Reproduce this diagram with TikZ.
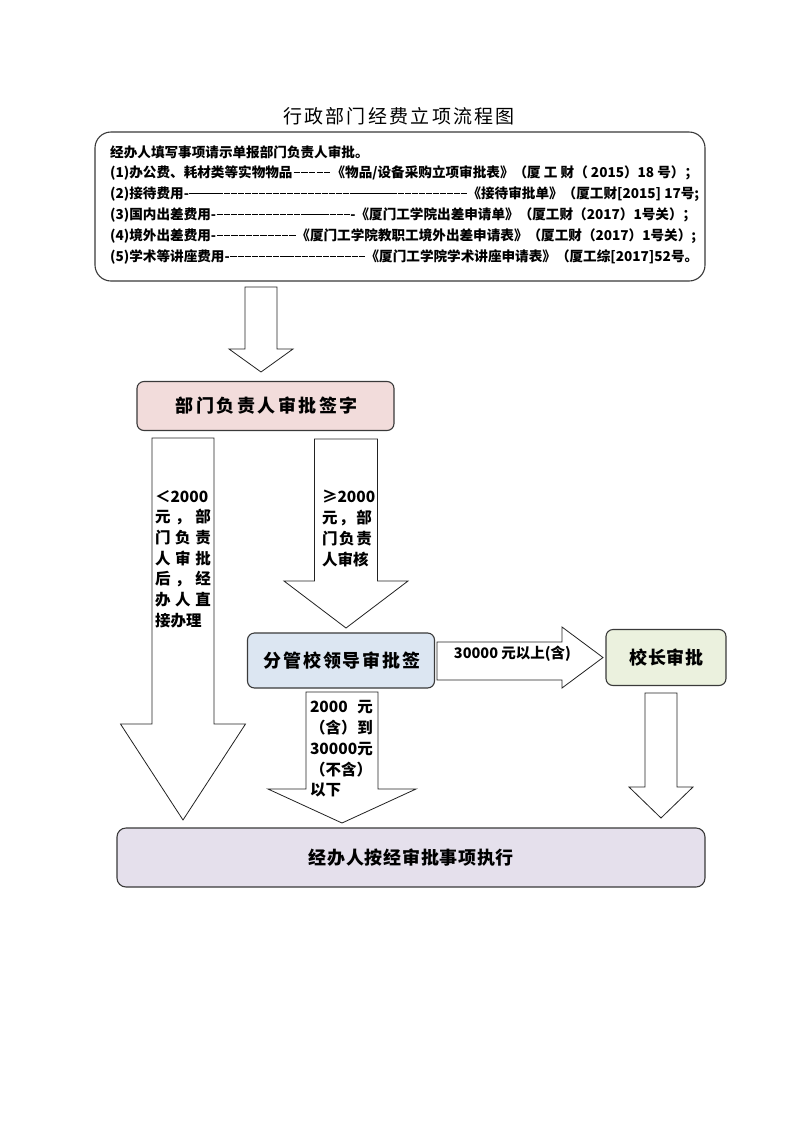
\documentclass[tikz,border=0pt]{standalone}
\usepackage{fontspec}
\setmainfont{Noto Sans CJK SC}
\definecolor{boxline}{HTML}{3A3A3A}
\definecolor{arrline}{HTML}{222222}
\definecolor{pinkc}{HTML}{F2DCDB}
\definecolor{bluec}{HTML}{DCE6F2}
\definecolor{greenc}{HTML}{EBF1DE}
\definecolor{lavc}{HTML}{E5E0EC}
\newcommand\dnarrow[6]{% cx, ytop, shaft half width, yhead, head half width, ytip
  \draw[arr] ({#1-#3},#2) -- ({#1+#3},#2) -- ({#1+#3},#4) -- ({#1+#5},#4) -- (#1,#6)
    -- ({#1-#5},#4) -- ({#1-#3},#4) -- cycle;}
\newcommand\jline[2]{\hbox to #1{#2}}
\newcommand\dashfill{\xleaders\hbox{\kern0.3pt\rule[4.6pt]{6.2pt}{0.8pt}\kern0.3pt}\hfill}
\begin{document}
\begin{tikzpicture}[x=1pt,y=-1pt,
  box/.style={draw=boxline,line width=1.1pt,rounded corners=7pt,inner sep=0pt},
  arr/.style={draw=arrline,line width=0.8pt,fill=white,line join=miter},
  infoline/.style={anchor=west,inner sep=0pt,font=\bfseries\fontsize{13.6}{16}\selectfont},
  arrtext/.style={inner sep=0pt,align=left,font=\bfseries\fontsize{15.5}{20.7}\selectfont}]
\useasboundingbox (0,0) rectangle (793,1122);
\fill[white] (0,0) rectangle (793,1122);

% title
\node[inner sep=0pt,font=\fontsize{19}{22}\selectfont\addfontfeature{LetterSpace=12}] (title) at (399,116) {行政部门经费立项流程图};

% top information box
\node[box,rounded corners=16pt,fill=white,minimum width=610pt,minimum height=149pt] (info) at (400,206.5) {};
\node[infoline] (l1) at (110,152) {经办人填写事项请示单报部门负责人审批。};
\node[infoline] (l2) at (110,173) {\jline{588pt}{(1)办公费、耗材类等实物物品\dashfill《物品/设备采购立项审批表》（厦 工 财（ 2015）18 号）；}};
\node[infoline] (l3) at (110,194) {\jline{589pt}{(2)接待费用-\dashfill《接待审批单》（厦工财[2015] 17号;}};
\node[infoline] (l4) at (110,215) {\jline{586pt}{(3)国内出差费用-\dashfill-《厦门工学院出差申请单》（厦工财（2017）1号关）；}};
\node[infoline] (l5) at (110,236) {\jline{586pt}{(4)境外出差费用-\dashfill《厦门工学院教职工境外出差申请表》（厦工财（2017）1号关）;}};
\node[infoline] (l6) at (110,257) {\jline{588pt}{(5)学术等讲座费用-\dashfill《厦门工学院学术讲座申请表》（厦工综[2017]52号。}};

% boxes
\node[box,fill=pinkc,minimum width=257pt,minimum height=49pt] (dept) at (265.5,406)
  {\bfseries\fontsize{18}{20}\selectfont\addfontfeature{LetterSpace=14}部门负责人审批签字\kern-2.5pt};
\node[box,fill=bluec,minimum width=187pt,minimum height=55pt] (lead) at (341,660.5)
  {\bfseries\fontsize{18}{20}\selectfont\addfontfeature{LetterSpace=11}分管校领导审批签\kern-2pt};
\node[box,fill=greenc,minimum width=120pt,minimum height=56pt] (pres) at (666,657.5)
  {\bfseries\fontsize{18}{20}\selectfont\addfontfeature{LetterSpace=5}校长审批\kern-1pt};
\node[box,rounded corners=9pt,fill=lavc,minimum width=588pt,minimum height=59pt] (exec) at (411,857.5)
  {\bfseries\fontsize{18}{20}\selectfont\addfontfeature{LetterSpace=4}经办人按经审批事项执行\kern-0.7pt};

% block arrows
\dnarrow{261}{287}{16}{349}{32}{372}
\dnarrow{183}{438}{31}{724}{62.5}{820}
\dnarrow{346}{439}{31.5}{581}{62}{628}
\dnarrow{342}{692}{36}{789}{74}{823}
\dnarrow{661}{693}{16}{787}{32}{818}
\draw[arr] (437,642) -- (562,642) -- (562,627) -- (603,657.5) -- (562,688) -- (562,680) -- (437,680) -- cycle;

% arrow texts
\node[arrtext] (ltxt) at (183,559) {\jline{56pt}{＜2000\hfill}\\
  \jline{56pt}{元\hfill ，\hfill 部}\\
  \jline{56pt}{门\hfill 负\hfill 责}\\
  \jline{56pt}{人\hfill 审\hfill 批}\\
  \jline{56pt}{后\hfill ，\hfill 经}\\
  \jline{56pt}{办\hfill 人\hfill 直}\\
  \jline{56pt}{接办理\hfill}};
\node[arrtext] (mtxt) at (347,528.5) {\jline{50pt}{≥2000\hfill}\\
  \jline{50pt}{元\hfill ，\hfill 部}\\
  \jline{50pt}{门\hfill 负\hfill 责}\\
  \jline{50pt}{人审核\hfill}};
\node[arrtext] (dtxt) at (341.5,749) {\jline{63pt}{2000\hfill 元}\\
  \jline{63pt}{（含）\hfill 到}\\
  \jline{63pt}{30000\hfill 元}\\
  \jline{63pt}{（不含）\hfill}\\
  \jline{63pt}{以下\hfill}};
\node[inner sep=0pt,font=\bfseries\fontsize{14.5}{17}\selectfont] (rtxt) at (512.5,654) {30000 元以上(含)};
\end{tikzpicture}
\end{document}
